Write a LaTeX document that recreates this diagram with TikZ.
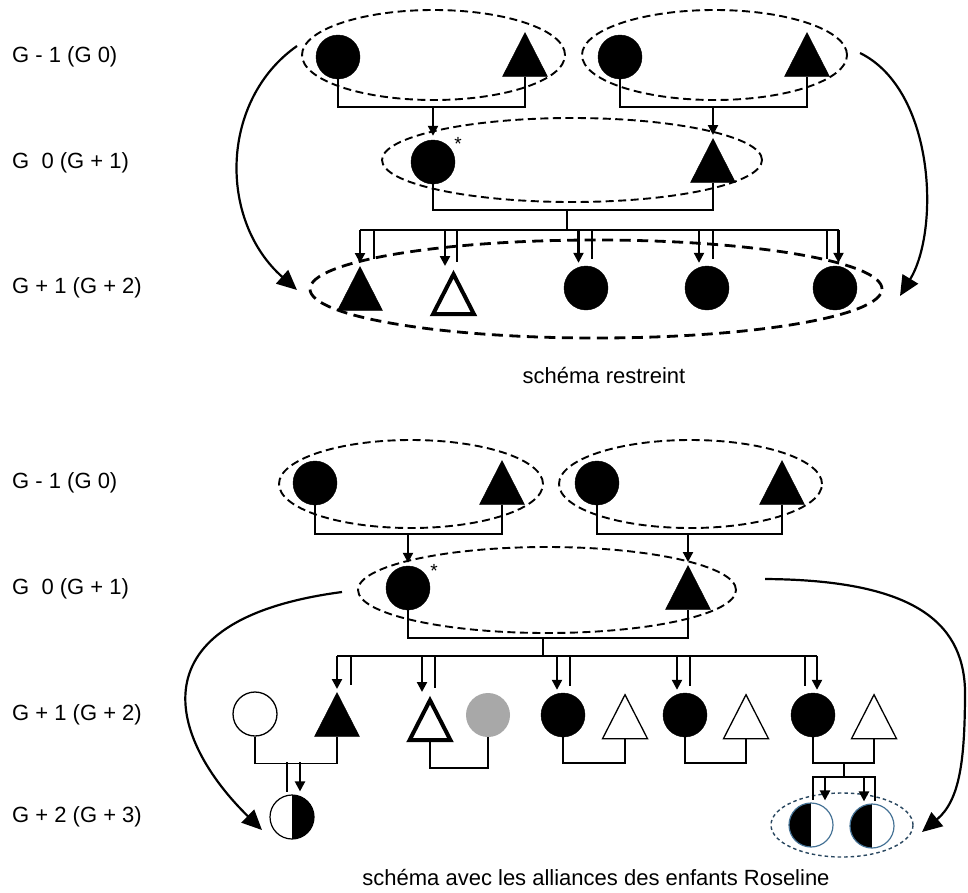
\documentclass[tikz,border=0pt]{standalone}
\usepackage{fontspec}
\setmainfont{Liberation Sans}
\usetikzlibrary{shapes.geometric,arrows.meta,calc}
\definecolor{halfblue}{RGB}{70,115,150}
\definecolor{dotblue}{RGB}{40,70,95}
\definecolor{greyfill}{RGB}{168,168,168}
\newcommand{\kidA}[3]{\draw[desc] (#1.north) ++(#2,-#3) -- ++(0,#3-3);}
\newcommand{\kidP}[3]{\draw[plainline] (#1.north) ++(#2,-#3) -- ++(0,#3-7);}
\begin{document}
\begin{tikzpicture}[x=1pt,y=-1pt,
  fam/.style={line width=1.5pt},
  plainline/.style={line width=1.5pt},
  desc/.style={line width=2.2pt,-{Triangle[length=10pt,width=10pt]}},
  curvearrow/.style={line width=2.2pt,-{Triangle[length=20pt,width=18pt]}},
  dashell/.style={draw,ellipse,inner sep=0pt,line width=1.9pt,dash pattern=on 8pt off 4.5pt},
  dotell/.style={draw=dotblue,ellipse,inner sep=0pt,line width=1.4pt,dash pattern=on 3.5pt off 3pt,minimum width=142pt,minimum height=64pt},
  fcirc/.style={circle,fill=black,draw=black,minimum size=44pt,inner sep=0pt},
  ocirc/.style={circle,fill=white,draw=black,line width=1.3pt,minimum size=44pt,inner sep=0pt},
  gcirc/.style={circle,fill=greyfill,draw=none,minimum size=44pt,inner sep=0pt},
  tri/.style={isosceles triangle,isosceles triangle stretches,shape border rotate=90,minimum width=45pt,minimum height=44pt,inner sep=0pt,anchor=apex},
  ftri/.style={tri,fill=black,draw=black},
  otri/.style={tri,fill=white,draw=black,line width=1.3pt},
  ttri/.style={tri,fill=white,draw=black,line width=4pt,minimum width=41pt,minimum height=40pt},
  halfR/.style={circle,draw=black,line width=1.2pt,fill=white,minimum size=44pt,inner sep=0pt,
    path picture={\fill[black] (path picture bounding box.north) rectangle (path picture bounding box.south east);}},
  halfL/.style={circle,draw=halfblue,line width=1.2pt,fill=white,minimum size=44pt,inner sep=0pt,
    path picture={\fill[black] (path picture bounding box.south west) rectangle (path picture bounding box.north);}},
  lab/.style={font=\fontsize{22}{26}\selectfont,anchor=west,inner sep=0pt},
  captext/.style={font=\fontsize{22}{26}\selectfont,inner sep=0pt},
  starlab/.style={font=\fontsize{19}{19}\selectfont,inner sep=0pt}
]
\useasboundingbox (0,0) rectangle (968,892);
\fill[white] (0,0) rectangle (968,892);

% generation labels
\node[lab] (l1) at (12,57) {G - 1 (G 0)};
\node[lab] (l2) at (12,163) {G\ \ 0 (G + 1)};
\node[lab] (l3) at (12,288) {G + 1 (G + 2)};
\node[lab] (l4) at (12,483) {G - 1 (G 0)};
\node[lab] (l5) at (12,589) {G\ \ 0 (G + 1)};
\node[lab] (l6) at (12,715) {G + 1 (G + 2)};
\node[lab] (l7) at (12,817) {G + 2 (G + 3)};

%%%%%%%%%%%%%%%% TOP: schema restreint
\node[dashell,minimum width=263pt,minimum height=90pt] (e1) at (433.5,55) {};
\node[dashell,minimum width=265pt,minimum height=90pt] (e2) at (714.5,55) {};
\node[fcirc] (a1) at (338,57) {};
\node[ftri] (b1) at (525,32) {};
\node[fcirc] (c1) at (620,57) {};
\node[ftri] (d1) at (807,32) {};
\draw[fam] (a1.south) -- ++(0,28) -| (b1.south);
\draw[fam] (c1.south) -- ++(0,28) -| (d1.south);

\node[dashell,minimum width=380pt,minimum height=84pt] (e3) at (572,160) {};
\node[fcirc] (g0f) at (433,162) {};
\node[starlab] (st1) at (458,144) {*};
\node[ftri] (g0m) at (713,138) {};
\draw[desc] (g0f.north) ++(0,-33) -- ++(0,29);
\draw[desc] (g0m.north) ++(0,-31) -- ++(0,28);
\draw[fam] (g0f.south) -- ++(0,26) -| (g0m.south);
\coordinate (s0a) at (567,210);
\coordinate (s0b) at (567,230);
\draw[fam] (s0a) -- (s0b);
\coordinate (sbL) at (360,230);
\coordinate (sbR) at (838.5,230);
\draw[fam] (sbL) -- (sbR);

\node[dashell,line width=2.8pt,dash pattern=on 11pt off 6.5pt,minimum width=572pt,minimum height=98pt] (e4) at (596,289) {};
\node[ftri] (k1) at (360,266) {};
\node[ttri] (k2) at (453.5,269) {};
\node[fcirc] (k3) at (586,288) {};
\node[fcirc] (k4) at (707,288) {};
\node[fcirc] (k5) at (835,288) {};
\kidA{k1}{0}{36}   \kidP{k1}{14}{36}
\kidA{k2}{-8.5}{39} \kidP{k2}{3.5}{39}
\kidA{k3}{-7.5}{36} \kidP{k3}{6}{36}
\kidA{k4}{-8}{36}  \kidP{k4}{6}{36}
\kidP{k5}{-8}{36}  \kidA{k5}{3.5}{36}

\coordinate (lt0) at (297,46);
\coordinate (lt1) at (297,290);
\draw[curvearrow] (lt0) .. controls (220,100) and (218,220) .. (lt1);
\coordinate (rt0) at (860,53);
\coordinate (rt1) at (900,296);
\draw[curvearrow] (rt0) .. controls (935,90) and (940,230) .. (rt1);

\node[captext] (cap1) at (604,375) {schéma restreint};

%%%%%%%%%%%%%%%% BOTTOM: schema avec alliances
\node[dashell,minimum width=264pt,minimum height=88pt] (e5) at (411,484) {};
\node[dashell,minimum width=263pt,minimum height=88pt] (e6) at (690.5,484) {};
\node[fcirc] (a2) at (315,483) {};
\node[ftri] (b2) at (502,460) {};
\node[fcirc] (c2) at (597,483) {};
\node[ftri] (d2) at (782,460) {};
\draw[fam] (a2.south) -- ++(0,29) -| (b2.south);
\draw[fam] (c2.south) -- ++(0,29) -| (d2.south);

\node[dashell,minimum width=378pt,minimum height=86pt] (e7) at (547,590) {};
\node[fcirc] (h0f) at (408,588) {};
\node[starlab] (st2) at (434,571) {*};
\node[ftri] (h0m) at (688,565) {};
\draw[desc] (h0f.north) ++(0,-32) -- ++(0,29);
\draw[desc] (h0m.north) ++(0,-31) -- ++(0,28);
\draw[fam] (h0f.south) -- ++(0,28) -| (h0m.south);
\coordinate (s1a) at (543,638);
\coordinate (s1b) at (543,656);
\draw[fam] (s1a) -- (s1b);
\coordinate (sb2L) at (337,656);
\coordinate (sb2R) at (817,656);
\draw[fam] (sb2L) -- (sb2R);

\node[ocirc] (m1) at (255,714) {};
\node[ftri] (m2) at (337,692) {};
\node[ttri] (m3) at (430,695) {};
\node[gcirc] (m4) at (488,715) {};
\node[fcirc] (m5) at (563,715) {};
\node[otri] (m6) at (625,693) {};
\node[fcirc] (m7) at (685,715) {};
\node[otri] (m8) at (746,693) {};
\node[fcirc] (m9) at (813,715) {};
\node[otri] (m10) at (874,693) {};
\kidA{m2}{0}{36}  \kidP{m2}{14}{36}
\kidA{m3}{-8}{39} \kidP{m3}{5}{39}
\kidA{m5}{-6}{37} \kidP{m5}{7}{37}
\kidA{m7}{-8}{37} \kidP{m7}{5}{37}
\kidP{m9}{-8}{37} \kidA{m9}{4}{37}

\draw[fam] (m1.south) -- ++(0,27) -| (m2.south);
\draw[fam] (m3.south) -- ++(0,26) -| (m4.south);
\draw[fam] (m5.south) -- ++(0,26) -| (m6.south);
\draw[fam] (m7.south) -- ++(0,26) -| (m8.south);
\draw[fam] (m9.south) -- ++(0,26) -| (m10.south);

\node[halfR] (n1) at (292,817) {};
\draw[plainline] (n1.north) ++(-5,-32) -- ++(0,30);
\draw[desc] (n1.north) ++(8,-32) -- ++(0,29);

\coordinate (d3a) at (844,763);
\coordinate (d3b) at (844,777);
\draw[fam] (d3a) -- (d3b);
\coordinate (cbL) at (813,777);
\coordinate (cbR) at (875,777);
\draw[fam] (cbL) -- (cbR);
\node[dotell] (e8) at (842,825) {};
\node[halfL] (n2) at (811,825) {};
\node[halfL] (n3) at (872,826) {};
\draw[plainline] (n2.north) ++(2,-26) -- ++(0,24);
\draw[desc] (n2.north) ++(14,-26) -- ++(0,24);
\draw[desc] (n3.north) ++(-8,-27) -- ++(0,25);
\draw[plainline] (n3.north) ++(3,-27) -- ++(0,25);

\coordinate (lb0) at (342,592);
\coordinate (lb1) at (262,830);
\draw[curvearrow] (lb0) .. controls (130,620) and (170,740) .. (lb1);
\coordinate (rb0) at (765,579);
\coordinate (rbm) at (965,690);
\coordinate (rb1) at (922,832);
\draw[curvearrow] (rb0) .. controls (910,580) and (963,620) .. (rbm) .. controls (965,760) and (960,800) .. (rb1);

\node[captext] (cap2) at (596,877) {schéma avec les alliances des enfants Roseline};
\end{tikzpicture}
\end{document}
